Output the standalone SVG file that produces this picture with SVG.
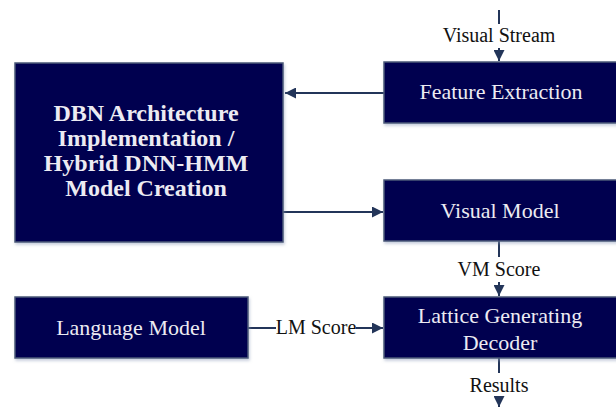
<svg xmlns="http://www.w3.org/2000/svg" width="616" height="407" viewBox="0 0 616 407">
  <defs>
    <marker id="arrow" viewBox="0 0 10 10" refX="10" refY="5" markerWidth="5.5" markerHeight="5.5" markerUnits="strokeWidth" orient="auto">
      <path d="M0,0 L10,5 L0,10 z" fill="#233559"/>
    </marker>
    <filter id="shadow" x="-5%" y="-5%" width="112%" height="115%">
      <feDropShadow dx="1" dy="2" stdDeviation="1.5" flood-color="#8a9ab8" flood-opacity="0.5"/>
    </filter>
    <style>
      .box { fill: #01014f; stroke: #4a5878; stroke-width: 1.5; filter: url(#shadow); }
      text { font-family: 'Liberation Serif', 'Times New Roman', serif; }
      .btxt { font-size: 22px; fill: #ecebf2; text-anchor: middle; }
      .bold { font-weight: bold; font-size: 24px; }
      .lbl { font-size: 20px; fill: #111; text-anchor: middle; }
      .edge { stroke: #233559; stroke-width: 2; fill: none; }
    </style>
  </defs>
  <rect width="616" height="407" fill="#ffffff"/>

  <g id="connectors">
    <line class="edge" x1="499" y1="10" x2="499" y2="24"/>
    <line class="edge" x1="499" y1="48" x2="499" y2="61" marker-end="url(#arrow)"/>
    <line class="edge" x1="384" y1="93" x2="285" y2="93" marker-end="url(#arrow)"/>
    <line class="edge" x1="283" y1="212" x2="383" y2="212" marker-end="url(#arrow)"/>
    <line class="edge" x1="499" y1="241" x2="499" y2="257"/>
    <line class="edge" x1="499" y1="282" x2="499" y2="296" marker-end="url(#arrow)"/>
    <line class="edge" x1="248" y1="328" x2="276" y2="328"/>
    <line class="edge" x1="356" y1="328" x2="383" y2="328" marker-end="url(#arrow)"/>
    <line class="edge" x1="499" y1="358" x2="499" y2="373"/>
    <line class="edge" x1="499" y1="397" x2="499" y2="407" marker-end="url(#arrow)"/>
    <text class="lbl" x="499" y="42">Visual Stream</text>
    <text class="lbl" x="499" y="276">VM Score</text>
    <text class="lbl" x="316" y="334">LM Score</text>
    <text class="lbl" x="499" y="392">Results</text>
  </g>

  <g id="feature-extraction">
    <rect class="box" x="384" y="62" width="240" height="61"/>
    <text class="btxt" x="501" y="99">Feature Extraction</text>
  </g>

  <g id="dbn-architecture">
    <rect class="box" x="15" y="63" width="268" height="179"/>
    <text class="btxt bold" x="146" y="121">DBN Architecture</text>
    <text class="btxt bold" x="146" y="146">Implementation /</text>
    <text class="btxt bold" x="146" y="171">Hybrid DNN-HMM</text>
    <text class="btxt bold" x="146" y="196">Model Creation</text>
  </g>

  <g id="visual-model">
    <rect class="box" x="384" y="180" width="240" height="61"/>
    <text class="btxt" x="500" y="218">Visual Model</text>
  </g>

  <g id="language-model">
    <rect class="box" x="15" y="297" width="233" height="61"/>
    <text class="btxt" x="131" y="335">Language Model</text>
  </g>

  <g id="lattice-decoder">
    <rect class="box" x="384" y="297" width="240" height="61"/>
    <text class="btxt" x="500" y="323">Lattice Generating</text>
    <text class="btxt" x="500" y="350">Decoder</text>
  </g>
</svg>
